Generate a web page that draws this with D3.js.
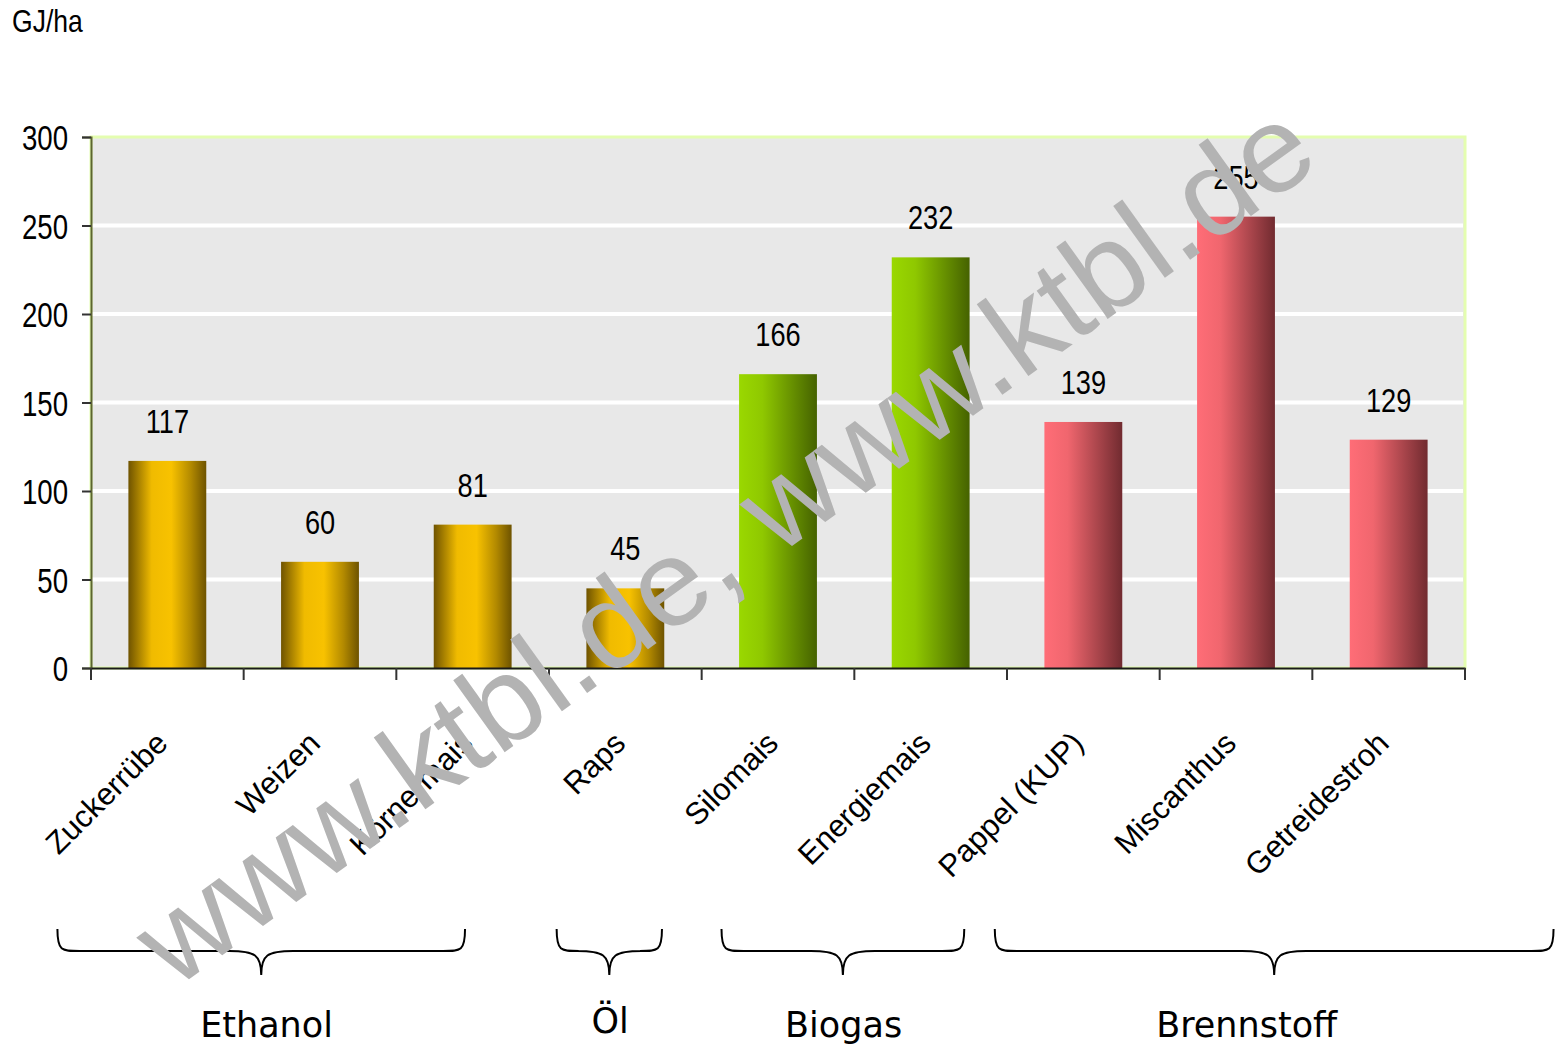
<!DOCTYPE html>
<html><head><meta charset="utf-8">
<script src="https://cdn.jsdelivr.net/npm/d3@7/dist/d3.min.js"></script>
<style>body{margin:0;background:#fff}svg{display:block}</style>
</head><body>
<svg id="chart" width="1565" height="1045"></svg>
<script>
const categories = ["Zuckerrübe","Weizen","Körnermais","Raps","Silomais","Energiemais","Pappel (KUP)","Miscanthus","Getreidestroh"];
const values = [117, 60, 81, 45, 166, 232, 139, 255, 129];
const colorGroup = ["gold","gold","gold","gold","green","green","red","red","red"];
const yTicks = [0, 50, 100, 150, 200, 250, 300];
const unitLabel = "GJ/ha";
const groupNames = ["Ethanol","Öl","Biogas","Brennstoff"];
const groupFrom = [-0.72, 2.55, 3.63, 5.42];   // in category-index units
const groupTo = [1.95, 3.24, 5.22, 9.08];
const groupLabelAt = [0.65, 2.9, 4.43, 7.07];
const watermark = "www.ktbl.de, www.ktbl.de";

const svg = d3.select("#chart");
const arial = "'Liberation Sans',Arial,sans-serif";
const m = {left:91, right:1465, top:137, bottom:668};

const x = d3.scaleBand().domain(categories).range([m.left, m.right]).paddingInner(0.49).paddingOuter(0.245);
const y = d3.scaleLinear().domain([0, 300]).range([m.bottom, m.top]);
const idx = d3.scaleLinear().domain([0, 1]).range([m.left + x.step()/2, m.left + x.step()*1.5]);

const defs = svg.append("defs");
const grads = {
  gold: [[0,"#6f5300"],[0.3,"#f0bb00"],[0.55,"#f8c200"],[0.8,"#b38a00"],[1,"#6e5300"]],
  green: [[0,"#9ad800"],[0.3,"#8fc800"],[1,"#456200"]],
  red: [[0,"#ff6d77"],[0.3,"#f0666e"],[1,"#712b30"]]
};
Object.entries(grads).forEach(([k, stops]) => {
  const g = defs.append("linearGradient").attr("id","g-"+k).attr("x1","0").attr("x2","1").attr("y1","0").attr("y2","0");
  stops.forEach(s => g.append("stop").attr("offset", s[0]).attr("stop-color", s[1]));
});

// plot background
svg.append("rect").attr("x", m.left).attr("y", m.top).attr("width", m.right - m.left).attr("height", m.bottom - m.top)
  .attr("fill", "#e8e8e8").attr("stroke", "#e4fdb0").attr("stroke-width", 3);

// gridlines
svg.append("g").selectAll("line").data(yTicks.filter(t => t > 0 && t < 300)).join("line")
  .attr("x1", m.left).attr("x2", m.right - 2).attr("y1", d => y(d)).attr("y2", d => y(d))
  .attr("stroke", "#fff").attr("stroke-width", 4);

// bars
svg.append("g").selectAll("rect").data(categories).join("rect")
  .attr("x", d => x(d)).attr("width", x.bandwidth())
  .attr("y", (d,i) => y(values[i])).attr("height", (d,i) => y(0) - y(values[i]))
  .attr("fill", (d,i) => `url(#g-${colorGroup[i]})`);

// y axis
const ySx = 0.79;
const yAxis = svg.append("g").attr("transform", `translate(${m.left},0)`)
  .call(d3.axisLeft(y).tickValues(yTicks).tickSize(9).tickPadding(14));
yAxis.select(".domain").attr("stroke", "#5c6530").attr("stroke-width", 2);
yAxis.selectAll(".tick line").attr("stroke", "#333").attr("stroke-width", 2);
yAxis.selectAll(".tick text").attr("font-family", arial).attr("font-size", 35).attr("fill", "#000")
  .attr("x", -23 / ySx).attr("dy", "0.36em").attr("transform", `scale(${ySx},1)`);

// x axis
const xAxis = svg.append("g").attr("transform", `translate(0,${m.bottom})`)
  .call(d3.axisBottom(x).tickSize(0).tickFormat(""));
xAxis.select(".domain").attr("stroke", "#1a1a1a").attr("stroke-width", 2);
const bounds = d3.range(categories.length + 1).map(i => m.left + i * x.step());
xAxis.selectAll(".bnd").data(bounds).join("line").attr("class","bnd")
  .attr("x1", d => d).attr("x2", d => d).attr("y1", 0).attr("y2", 12)
  .attr("stroke", "#333").attr("stroke-width", 2);

// category labels
svg.append("g").selectAll("text").data(categories).join("text")
  .attr("transform", d => `translate(${x(d) + x.bandwidth()/2 + 2},${m.bottom + 77}) rotate(-45)`)
  .attr("text-anchor", "end").attr("font-family", arial).attr("font-size", 31)
  .attr("fill", "#000").text(d => d);

// value labels
svg.append("g").selectAll("text").data(categories).join("text")
  .attr("transform", (d,i) => `translate(${x(d) + x.bandwidth()/2},${y(values[i]) - 28}) scale(0.8,1)`)
  .attr("text-anchor", "middle").attr("font-family", arial).attr("font-size", 34).attr("fill", "#000")
  .text((d,i) => values[i]);

// unit label
svg.append("text").attr("transform", "translate(12,32) scale(0.83,1)").attr("font-family", arial).attr("font-size", 32).text(unitLabel);

// braces
const braceTop = 929, braceMid = 951, braceTip = 975;
function bracePath(x0, x1) {
  const c = (x0 + x1) / 2, r = 22;
  return `M${x0},${braceTop} C${x0},${braceMid} ${x0+4},${braceMid} ${x0+r},${braceMid}` +
    ` L${c-r-10},${braceMid} C${c-6},${braceMid} ${c},${braceMid+4} ${c},${braceTip}` +
    ` C${c},${braceMid+4} ${c+6},${braceMid} ${c+r+10},${braceMid}` +
    ` L${x1-r},${braceMid} C${x1-4},${braceMid} ${x1},${braceMid} ${x1},${braceTop}`;
}
const gb = svg.append("g");
gb.selectAll("path").data(groupNames).join("path")
  .attr("d", (d,i) => bracePath(idx(groupFrom[i]), idx(groupTo[i])))
  .attr("fill", "none").attr("stroke", "#000").attr("stroke-width", 2);
gb.selectAll("text").data(groupNames).join("text")
  .attr("x", (d,i) => idx(groupLabelAt[i])).attr("y", (d,i) => i === 1 ? 1033 : 1037)
  .attr("text-anchor", "middle").attr("font-family", "'DejaVu Sans',Verdana,sans-serif").attr("font-size", 35)
  .attr("fill", "#000").text(d => d);

// watermark
svg.append("text").attr("transform", "translate(724,543) rotate(-35.7)")
  .attr("text-anchor", "middle").attr("dominant-baseline", "central")
  .attr("font-family", arial).attr("font-size", 122)
  .attr("textLength", 1415).attr("lengthAdjust", "spacingAndGlyphs")
  .attr("fill", "#b3b3b3").text(watermark);
</script>
</body></html>
